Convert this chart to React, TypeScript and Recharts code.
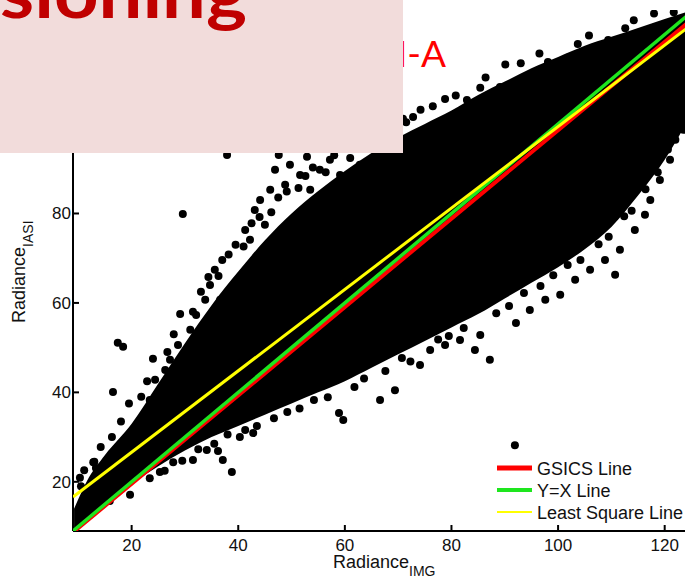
import React from 'react';
import { ComposedChart, Scatter, Line, Area, XAxis, YAxis } from 'recharts';

const xTicks = [20, 40, 60, 80, 100, 120];
const yTicks = [20, 40, 60, 80];

// dense core of the point cloud: x, lower edge, upper edge
const bandX = [9.2, 12, 15, 20, 25, 30, 35, 40, 45, 50, 55, 60, 65, 70, 75, 80, 85, 90, 95, 100, 105, 110, 115, 120, 124];
const bandLow = [9.2, 11.8, 14.8, 19.5, 23.5, 27, 30, 32.5, 35, 37.5, 40, 42.5, 45.5, 48.5, 51.5, 54.5, 57.5, 61, 64.5, 68, 72, 77, 84, 92, 100];
const bandHigh = [14, 21, 26, 33, 42, 51, 59.5, 67, 74, 80, 85, 89.5, 93.5, 97, 100, 103, 106.5, 109.5, 112.5, 115, 117.5, 119.5, 121.5, 123.5, 125];

// scattered points outside the core
const dotsUpperLeft: [number, number][] = [
  [10.3, 20.9], [11.1, 22.6], [12.8, 24.4], [13.3, 23.1], [11.8, 18.6], [14.1, 20.4], [15.2, 22.6],
  [16.5, 40.1], [17.4, 51.1], [18.4, 50.2], [19.3, 26], [19.7, 29.4], [20.6, 31.6], [21.6, 33.8],
  [23.4, 38.3], [24.4, 42.8], [25.3, 40.5], [26.3, 45], [27.2, 47.3], [28.7, 50.6], [29.6, 79.9],
  [31, 54], [32.1, 57.3], [32.8, 51.7], [33.8, 60.7], [34.7, 64], [35.6, 67.4], [36.6, 60.7],
  [37, 69.6], [37.9, 93.1], [41.3, 76.3], [42.2, 74.1], [43.1, 80.8], [44.1, 83], [45, 77.5],
  [46, 85.3], [46.9, 89.8], [47.6, 93.1], [48.8, 86.4], [49.7, 90.9], [51.6, 88.6], [52.9, 92.7],
  [53.5, 85.3], [55.3, 89.8], [57.2, 92], [59.1, 88.6], [61, 92.4], [62.8, 90.9], [67.2, 93.1], [70.9, 92.4],
];
const dotsUpperEdge: [number, number][] = [
  [10.5, 19], [13, 24.5], [14.2, 27.8], [16.3, 30], [18, 33.5], [19.5, 37.5], [21.8, 39], [22.9, 42.5],
  [24, 47.5], [26.7, 49], [27.9, 53], [29.1, 57.5], [31.5, 58], [33, 62.5], [34.4, 65.8], [36.3, 66],
  [38.2, 70.8], [39.5, 73], [41, 72.6], [42.5, 77.8], [44, 79.2], [46.2, 80.3], [47.5, 83.6], [49.1, 84.9],
  [51.3, 85.7], [52.6, 88.4], [54, 90.3], [56.4, 89.2], [58, 93], [60.5, 94.6], [63.5, 96.2], [66, 97.7],
  [68.7, 99.8], [71.5, 100.4], [74.2, 103.2], [76.5, 104], [80.8, 106.4], [86.4, 110.4], [93, 113.6],
  [96.5, 115.8], [103.7, 117.9], [105.8, 119.8], [112.6, 121.4], [114.2, 123.2], [118, 124.7], [121.7, 125],
];
const dotsUpperRight: [number, number][] = [
  [70.9, 101.2], [72.8, 101.6], [78.8, 105.6], [79.7, 99.4], [82.9, 105.4], [83.7, 104.1], [85.4, 108.1],
  [89.1, 108.3], [90.1, 113.3], [91, 108.1], [98.1, 113.9], [102.1, 115], [107.3, 115.5], [109.4, 118.8],
  [111.3, 118.4], [121.6, 114.8], [122, 113.7], [120.4, 116.6], [116.7, 105.4], [116.9, 99.4],
  [116.9, 97.1], [113.5, 95.8], [115, 94.9], [118.4, 108.8],
];
const dotsLowerEdge: [number, number][] = [
  [26.2, 22.5], [29.5, 24.7], [32.5, 27.3], [35.5, 28.5], [38, 30.6], [43.5, 32.5], [46.7, 34.2], [49.2, 35.6],
  [51.5, 36.4], [54.2, 38.3], [56.8, 38.9], [61.8, 41.2], [63.6, 43.1], [67.6, 44.8], [72.3, 46.9], [77.5, 51.8],
  [79.5, 52.6], [82.3, 54.4], [88.4, 57.7], [90.8, 59.3], [93.6, 62.2], [96.7, 63.8], [99.1, 66.2], [101.8, 68.5],
  [104.2, 69.6], [107.6, 73.1], [109.5, 74.8], [112.4, 79.4], [113.8, 80.6], [116.4, 85.4], [118.7, 89.2],
  [120.6, 94.3], [122.7, 99.8],
];
const dotsLowerRight: [number, number][] = [
  [58.9, 35.4], [59.7, 33.8], [66.6, 38.3], [69.4, 40.5], [70.7, 47.7], [74.1, 46.1], [76, 49.5],
  [78.8, 50.6], [81.6, 51.7], [84.4, 49.5], [87.2, 47.3], [85.4, 52.8], [92.1, 55.5], [94.7, 58.4],
  [97.6, 60.7], [100.4, 61.8], [103.2, 65.2], [106, 67.4], [108.8, 69.6], [110.7, 66.3], [111.6, 71.9],
  [114.4, 76.3], [116.3, 79.7], [117.3, 83], [119.1, 87.5], [121, 92], [122, 96.5], [123.5, 98.7], [91.9, 28.2],
];
const dotsLowerLeft: [number, number][] = [
  [27.8, 24.4], [31.5, 24.9], [34.1, 27.1], [36.2, 26.9], [37.1, 24.9], [38.8, 22.2], [40.3, 30],
  [42.8, 30.9], [41.3, 31.6], [17.8, 18.8], [19.7, 17.1], [23.4, 20.8], [15.9, 15.7], [25.3, 22.2],
];

const gsicsLine = [{ x: 9, y: 8.7 }, { x: 126, y: 124.3 }];
const yxLine = [{ x: 9, y: 9 }, { x: 126, y: 126 }];
const lsqLine = [{ x: 9, y: 16.6 }, { x: 126, y: 123.1 }];

const bandData = bandX.map((x, i) => ({ x, band: [bandLow[i], bandHigh[i]] }));
const scatterData = [
  ...dotsUpperLeft, ...dotsUpperEdge, ...dotsUpperRight, ...dotsLowerEdge, ...dotsLowerRight, ...dotsLowerLeft,
].map(([x, y]) => ({ x, y }));

const FONT = '"Liberation Sans", Arial, Helvetica, sans-serif';

const BottomTick = (props: any) => {
  const { x, y, payload } = props;
  return (
    <g>
      <line x1={x} x2={x} y1={y} y2={y - 6} stroke="#000" strokeWidth={2} />
      <text x={x} y={y + 20} textAnchor="middle" fontSize={17} fontFamily={FONT} fill="#111">{payload.value}</text>
    </g>
  );
};
const TopTick = (props: any) => {
  const { x, y } = props;
  return <line x1={x} x2={x} y1={y} y2={y + 6} stroke="#000" strokeWidth={2} />;
};
const LeftTick = (props: any) => {
  const { x, y, payload } = props;
  return (
    <g>
      <line x1={x} x2={x + 6} y1={y} y2={y} stroke="#000" strokeWidth={2} />
      <text x={x - 2} y={y + 6} textAnchor="end" fontSize={17} fontFamily={FONT} fill="#111">{payload.value}</text>
    </g>
  );
};
const DotShape = (props: any) => <circle cx={props.cx} cy={props.cy} r={4} fill="#000" />;

export default function App() {
  return (
    <div style={{ position: 'absolute', left: 0, top: 0, width: 685, height: 579, overflow: 'hidden', background: '#fff' }}>
      <ComposedChart width={712} height={579} data={bandData} margin={{ top: 10, right: 10, bottom: 0, left: 0 }}>
        <XAxis xAxisId="b" dataKey="x" type="number" domain={[9, 127]} allowDataOverflow ticks={xTicks} interval={0}
          tickSize={0} tickMargin={0} tickLine={false} axisLine={{ stroke: '#000', strokeWidth: 2 }} tick={BottomTick} height={48} />
        <XAxis xAxisId="t" orientation="top" dataKey="x" type="number" domain={[9, 127]} allowDataOverflow ticks={xTicks} interval={0}
          tickSize={0} tickMargin={0} tickLine={false} axisLine={{ stroke: '#000', strokeWidth: 2 }} tick={TopTick} height={0} />
        <YAxis yAxisId="l" dataKey="y" type="number" domain={[9, 125.5]} allowDataOverflow ticks={yTicks} interval={0}
          tickSize={0} tickMargin={0} tickLine={false} axisLine={{ stroke: '#000', strokeWidth: 2 }} tick={LeftTick} width={73} />
        <Area xAxisId="b" yAxisId="l" dataKey="band" type="monotone" stroke="none" fill="#000" fillOpacity={1}
          isAnimationActive={false} dot={false} activeDot={false} />
        <Scatter xAxisId="b" yAxisId="l" data={scatterData} dataKey="y" shape={DotShape} isAnimationActive={false} />
        <Line xAxisId="b" yAxisId="l" data={gsicsLine} dataKey="y" type="linear" stroke="#FF0000" strokeWidth={4}
          dot={false} activeDot={false} isAnimationActive={false} zIndex={700} />
        <Line xAxisId="b" yAxisId="l" data={yxLine} dataKey="y" type="linear" stroke="#1EE61E" strokeWidth={3.5}
          dot={false} activeDot={false} isAnimationActive={false} zIndex={710} />
        <Line xAxisId="b" yAxisId="l" data={lsqLine} dataKey="y" type="linear" stroke="#FFFF00" strokeWidth={3}
          dot={false} activeDot={false} isAnimationActive={false} zIndex={720} />
      </ComposedChart>
      <svg width={685} height={579} style={{ position: 'absolute', left: 0, top: 0, pointerEvents: 'none' }}>
        <text x={333} y={568} fontSize={18} fontFamily={FONT} fill="#111">
          Radiance<tspan fontSize={14} dy={8}>IMG</tspan>
        </text>
        <text transform="translate(25,323) rotate(-90)" fontSize={18} fontFamily={FONT} fill="#111">
          Radiance<tspan fontSize={14} dy={8}>IASI</tspan>
        </text>
        <g fontFamily={FONT} fontSize={18} fill="#111">
          <line x1={497} x2={532} y1={468} y2={468} stroke="#FF0000" strokeWidth={5} />
          <text x={537} y={474.5}>GSICS Line</text>
          <line x1={497} x2={532} y1={490} y2={490} stroke="#1EE61E" strokeWidth={4} />
          <text x={537} y={496.5}>Y=X Line</text>
          <line x1={497} x2={532} y1={512} y2={512} stroke="#FFFF00" strokeWidth={2} />
          <text x={537} y={518.5}>Least Square Line</text>
        </g>
        <text x={397} y={67} fontSize={37} fontFamily="Lato, 'Open Sans', sans-serif" fill="#FF0000">I-A</text>
        <rect x={0} y={0} width={403} height={153} fill="#F2DCDB" />
        <text x={0} y={18} fontSize={68} fontWeight={700} fontFamily="Lato, 'Open Sans', sans-serif" fill="#C00000"
          textLength={247} lengthAdjust="spacingAndGlyphs">sioning</text>
      </svg>
    </div>
  );
}
